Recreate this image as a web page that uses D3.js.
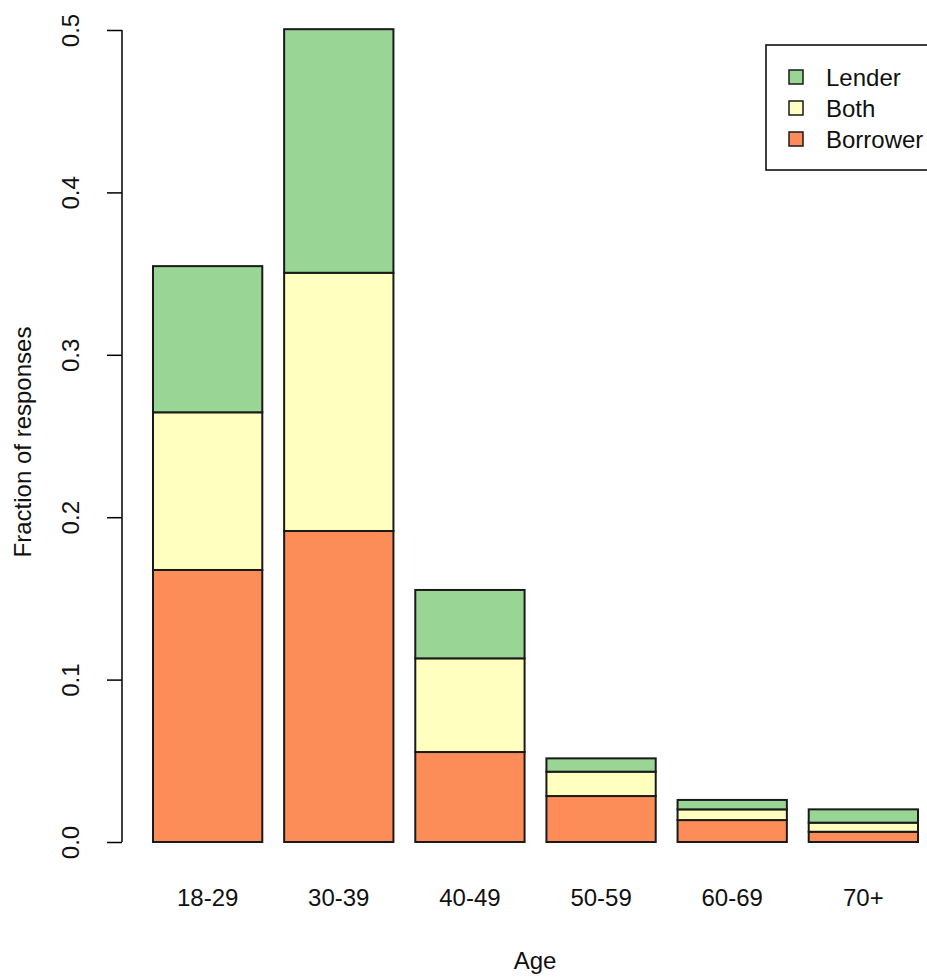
<!DOCTYPE html>
<html>
<head>
<meta charset="utf-8">
<script src="https://cdn.jsdelivr.net/npm/d3@7"></script>
<style>
  html, body { margin: 0; padding: 0; background: #fff; }
  text { font-family: "Liberation Sans", Arial, sans-serif; fill: #111; }
</style>
</head>
<body>
<svg id="chart" width="927" height="978"></svg>
<script>
const categories = ["18-29", "30-39", "40-49", "50-59", "60-69", "70+"];
const seriesNames = ["Borrower", "Both", "Lender"];
const borrower = [0.1675, 0.1915, 0.0554, 0.0283, 0.0135, 0.0063];
const both     = [0.0971, 0.1590, 0.0577, 0.0150, 0.0066, 0.0056];
const lender   = [0.0900, 0.1500, 0.0421, 0.0082, 0.0058, 0.0082];
const yTicks = [0.0, 0.1, 0.2, 0.3, 0.4, 0.5];
const colors = ["#fc8d59", "#ffffbf", "#99d594"];

const svg = d3.select("#chart");
const fontSize = 24;

// R barplot geometry: width 1, space 0.2
const x = d3.scaleLinear().domain([0.2, 7.2]).range([153, 918]);
const y = d3.scaleLinear().domain([0, 0.5]).range([842, 30]);

const rows = categories.map((c, i) => ({cat: c, Borrower: borrower[i], Both: both[i], Lender: lender[i], i}));
const stack = d3.stack().keys(seriesNames)(rows);

const g = svg.append("g");
stack.forEach((layer, k) => {
  g.selectAll(null).data(layer).enter().append("rect")
    .attr("x", d => x(0.2 + 1.2 * d.data.i))
    .attr("width", d => x(1.2 + 1.2 * d.data.i) - x(0.2 + 1.2 * d.data.i))
    .attr("y", d => y(d[1]))
    .attr("height", d => y(d[0]) - y(d[1]))
    .attr("fill", colors[k])
    .attr("stroke", "#1a1a1a")
    .attr("stroke-width", 2);
});

// y axis
const yAxis = d3.axisLeft(y).tickValues(yTicks).tickFormat(d3.format(".1f")).tickSize(15).tickSizeOuter(0);
const ya = svg.append("g").attr("transform", "translate(122,0)").call(yAxis);
ya.select(".domain").attr("stroke", "#000").attr("stroke-width", 1.5).attr("d", `M0,${y(0)}V${y(0.5)}`);
ya.selectAll(".tick line").attr("stroke", "#000").attr("stroke-width", 1.5);
ya.selectAll(".tick text")
  .attr("font-size", fontSize)
  .attr("font-family", "Liberation Sans, Arial, sans-serif")
  .attr("fill", "#111")
  .attr("x", 0).attr("dy", null)
  .attr("text-anchor", "middle")
  .attr("transform", "translate(-52,0) rotate(-90)")
  .attr("dominant-baseline", "central");

// x labels
svg.append("g").selectAll("text").data(categories).enter().append("text")
  .attr("x", (d, i) => x(0.7 + 1.2 * i))
  .attr("y", 897)
  .attr("text-anchor", "middle")
  .attr("dominant-baseline", "central")
  .attr("font-size", fontSize)
  .text(d => d);

// axis titles
svg.append("text").attr("x", 535).attr("y", 960).attr("text-anchor", "middle")
  .attr("dominant-baseline", "central").attr("font-size", fontSize).text("Age");
svg.append("text").attr("transform", "translate(22,442) rotate(-90)").attr("text-anchor", "middle")
  .attr("dominant-baseline", "central").attr("font-size", fontSize).text("Fraction of responses");

// legend
const legendItems = ["Lender", "Both", "Borrower"];
const legendColors = [colors[2], colors[1], colors[0]];
const lg = svg.append("g");
lg.append("rect").attr("x", 766).attr("y", 45).attr("width", 162).attr("height", 125)
  .attr("fill", "#fff").attr("stroke", "#000").attr("stroke-width", 1.5);
legendItems.forEach((name, i) => {
  const cy = 77 + i * 31;
  lg.append("rect").attr("x", 789).attr("y", cy - 7).attr("width", 14).attr("height", 14)
    .attr("fill", legendColors[i]).attr("stroke", "#1a1a1a").attr("stroke-width", 1.5);
  lg.append("text").attr("x", 826).attr("y", cy).attr("dominant-baseline", "central")
    .attr("font-size", fontSize).text(name);
});
</script>
</body>
</html>
